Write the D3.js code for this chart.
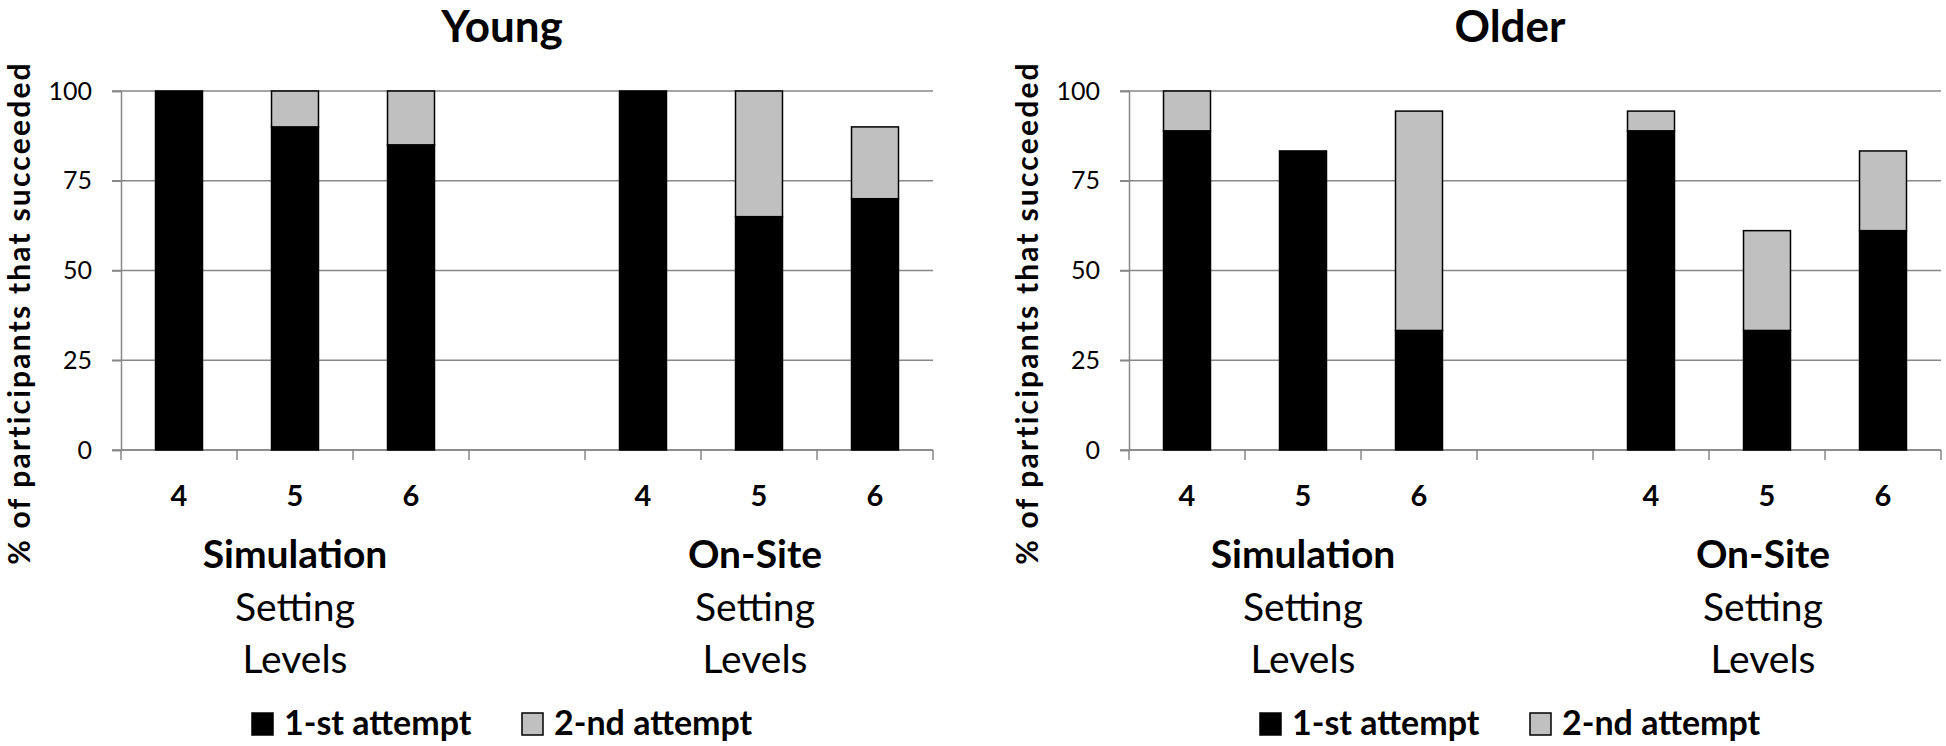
<!DOCTYPE html>
<html>
<head>
<meta charset="utf-8">
<script src="https://cdn.jsdelivr.net/npm/d3@7"></script>
<style>
  html, body { margin: 0; padding: 0; background: #fff; }
  svg { display: block; }
  text { font-family: Lato, "Open Sans", sans-serif; fill: #000; }
</style>
</head>
<body>
<svg id="chart" width="1946" height="746"></svg>
<script>
// ---- data ----
const categoryKeys = ["S4", "S5", "S6", "gap", "O4", "O5", "O6"];
const tickLabels = ["4", "5", "6", "", "4", "5", "6"];
const groupLabels = ["Simulation", "On-Site"];
const yTicks = [0, 25, 50, 75, 100];
const panelTitles = ["Young", "Older"];
const seriesNames = ["1-st attempt", "2-nd attempt"];
const youngFirst  = [100, 90, 85, null, 100, 65, 70];
const youngSecond = [0, 10, 15, null, 0, 35, 20];
const olderFirst  = [88.9, 83.3, 33.3, null, 88.9, 33.3, 61.1];
const olderSecond = [11.1, 0, 61.1, null, 5.5, 27.8, 22.2];

const panels = [
  { title: panelTitles[0], first: youngFirst, second: youngSecond },
  { title: panelTitles[1], first: olderFirst, second: olderSecond }
];

// ---- layout ----
const svg = d3.select("#chart");
const panelOffset = 1008;
const plotLeft = 121, plotRight = 933, plotTop = 91, plotBottom = 450;
const gridColor = "#878787";
const colors = ["#000000", "#c0c0c0"];

const x = d3.scaleBand().domain(categoryKeys).range([plotLeft, plotRight])
  .paddingInner(0.595).paddingOuter(0.2975);
const y = d3.scaleLinear().domain([0, 100]).range([plotBottom, plotTop]);
const step = x.step();

panels.forEach((p, pi) => {
  const g = svg.append("g").attr("transform", `translate(${pi * panelOffset},0)`);

  // title
  g.append("text").attr("x", 502).attr("y", 42).attr("text-anchor", "middle")
    .style("font-size", "44px").style("font-weight", "bold").text(p.title);

  // gridlines
  g.append("g").selectAll("line").data(yTicks).join("line")
    .attr("x1", plotLeft - 9).attr("x2", plotRight)
    .attr("y1", d => y(d)).attr("y2", d => y(d))
    .attr("stroke", gridColor).attr("stroke-width", 1.5);

  // y axis
  const yAxis = d3.axisLeft(y).tickValues(yTicks).tickSize(9).tickPadding(20);
  const ya = g.append("g").attr("transform", `translate(${plotLeft},0)`).call(yAxis);
  ya.select(".domain").attr("stroke", gridColor).attr("stroke-width", 1.5);
  ya.selectAll(".tick line").attr("stroke", gridColor).attr("stroke-width", 1.5);
  ya.selectAll(".tick text").style("font-size", "25px").style("font-family", "Lato").attr("fill", "#000");

  // x axis: tick marks at category boundaries
  const boundaries = d3.range(categoryKeys.length + 1).map(i => plotLeft + i * step);
  g.append("line").attr("x1", plotLeft).attr("x2", plotRight)
    .attr("y1", plotBottom).attr("y2", plotBottom)
    .attr("stroke", gridColor).attr("stroke-width", 1.5);
  g.append("g").selectAll("line").data(boundaries).join("line")
    .attr("x1", d => d).attr("x2", d => d)
    .attr("y1", plotBottom).attr("y2", plotBottom + 10)
    .attr("stroke", gridColor).attr("stroke-width", 1.5);

  // tick labels
  g.append("g").selectAll("text").data(categoryKeys).join("text")
    .attr("x", d => x(d) + x.bandwidth() / 2).attr("y", 506)
    .attr("text-anchor", "middle").style("font-size", "29px").style("font-weight", "bold")
    .text((d, i) => tickLabels[i]);

  // group labels
  const groupCenters = [x("S5") + x.bandwidth() / 2, 755];
  groupLabels.forEach((lab, gi) => {
    const cx = groupCenters[gi];
    g.append("text").attr("x", cx).attr("y", 568).attr("text-anchor", "middle")
      .style("font-size", "39px").style("font-weight", "bold").text(lab);
    g.append("text").attr("x", cx).attr("y", 621).attr("text-anchor", "middle")
      .style("font-size", "39px").text("Setting");
    g.append("text").attr("x", cx).attr("y", 673).attr("text-anchor", "middle")
      .style("font-size", "39px").text("Levels");
  });

  // y-axis title
  g.append("text").attr("transform", "translate(30,313) rotate(-90)")
    .attr("text-anchor", "middle").style("font-size", "30px").style("font-weight", "bold")
    .style("letter-spacing", "2.2px")
    .text("% of participants that succeeded");

  // bars
  const rows = categoryKeys.map((k, i) => ({ key: k, a: p.first[i], b: p.second[i] }))
    .filter(d => d.a !== null);
  const bars = g.append("g");
  bars.selectAll("rect.first").data(rows).join("rect").attr("class", "first")
    .attr("x", d => x(d.key)).attr("width", x.bandwidth())
    .attr("y", d => y(d.a)).attr("height", d => y(0) - y(d.a))
    .attr("fill", colors[0]).attr("stroke", "#000").attr("stroke-width", 1.5);
  bars.selectAll("rect.second").data(rows.filter(d => d.b > 0)).join("rect").attr("class", "second")
    .attr("x", d => x(d.key)).attr("width", x.bandwidth())
    .attr("y", d => y(d.a + d.b)).attr("height", d => y(d.a) - y(d.a + d.b))
    .attr("fill", colors[1]).attr("stroke", "#000").attr("stroke-width", 1.5);

  // legend
  const legendX = [252, 522];
  seriesNames.forEach((s, si) => {
    g.append("rect").attr("x", legendX[si]).attr("y", 713).attr("width", 21).attr("height", 22)
      .attr("fill", colors[si]).attr("stroke", "#000").attr("stroke-width", 1.5);
    g.append("text").attr("x", legendX[si] + 32).attr("y", 735)
      .style("font-size", "34px").style("font-weight", "bold").text(s);
  });
});
</script>
</body>
</html>
